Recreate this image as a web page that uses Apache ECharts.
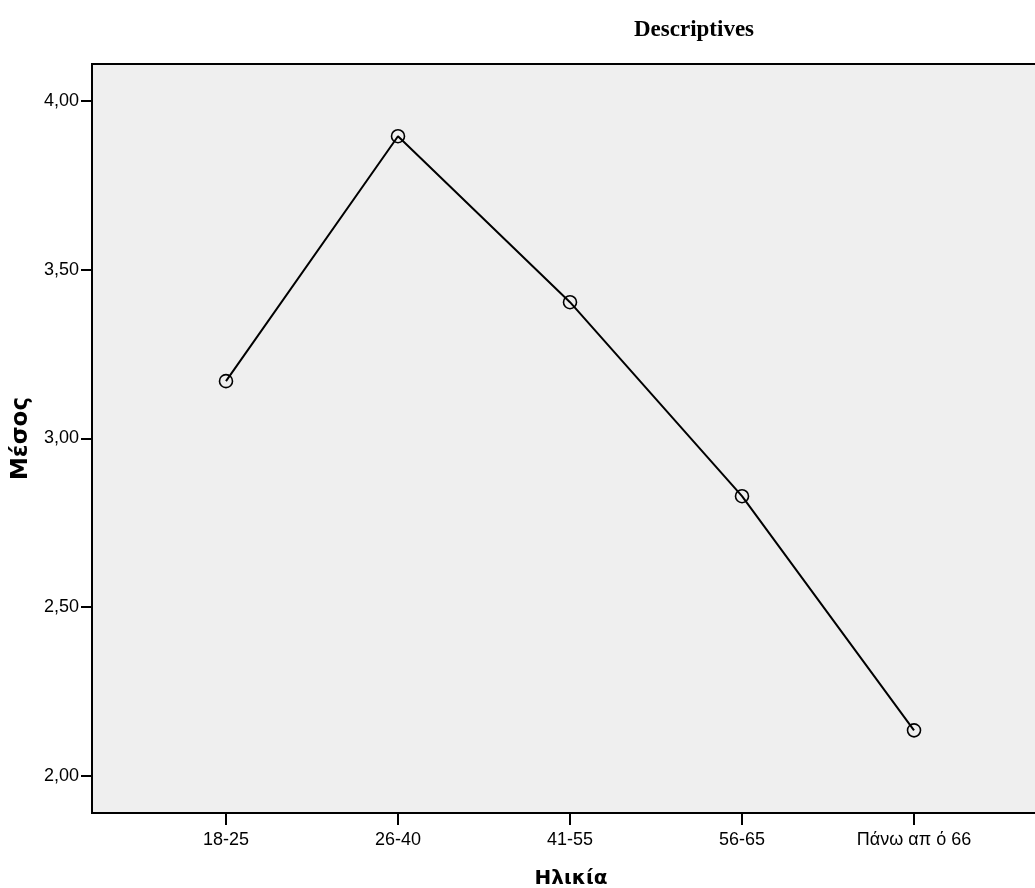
<!DOCTYPE html>
<html>
<head>
<meta charset="utf-8">
<script src="https://cdn.jsdelivr.net/npm/echarts@6/dist/echarts.min.js"></script>
<style>html,body{margin:0;padding:0;background:#fff}#c{width:1035px;height:888px}</style>
</head>
<body>
<div id="c"></div>
<script>
var categories = ['18-25', '26-40', '41-55', '56-65', 'Πάνω απ ό 66'];
var means = [3.170, 3.896, 3.404, 2.829, 2.135];
var yTicks = [2.0, 2.5, 3.0, 3.5, 4.0];

var chart = echarts.init(document.getElementById('c'), null, {renderer: 'canvas'});
var catIdx = categories.map(function (c, i) { return i; });
var pts = means.map(function (v, i) { return [i, v]; });

chart.setOption({
  animation: false,
  backgroundColor: '#ffffff',
  title: {
    text: 'Descriptives',
    left: 689, top: 14, textAlign: 'center',
    textStyle: {fontFamily: 'Liberation Serif', fontWeight: 'bold', fontSize: 23, color: '#000'}
  },
  grid: {
    left: 92, top: 64, right: -2, bottom: 75,
    outerBoundsMode: 'none', containLabel: false,
    show: true, backgroundColor: '#efefef', borderColor: '#000', borderWidth: 2
  },
  xAxis: {
    type: 'value', min: -0.779, max: 4.715,
    splitLine: {show: false},
    axisLine: {show: true, onZero: false, lineStyle: {color: '#000', width: 2}},
    axisTick: {show: true, customValues: catIdx, length: 12, lineStyle: {color: '#000', width: 2}},
    axisLabel: {
      customValues: catIdx, margin: 18, fontSize: 18, fontFamily: 'Liberation Sans', color: '#000',
      formatter: function (v) { return categories[Math.round(v)]; }
    },
    name: 'Ηλικία', nameLocation: 'middle', nameGap: 56,
    nameTextStyle: {fontFamily: 'DejaVu Sans', fontWeight: 'bold', fontSize: 20, color: '#000', padding: [0, 0, 0, 13]}
  },
  yAxis: {
    type: 'value', min: 1.89, max: 4.11,
    splitLine: {show: false},
    axisLine: {show: true, onZero: false, lineStyle: {color: '#000', width: 2}},
    axisTick: {show: true, customValues: yTicks, length: 11, lineStyle: {color: '#000', width: 2}},
    axisLabel: {
      customValues: yTicks, margin: 13, fontSize: 18, fontFamily: 'Liberation Sans', color: '#000',
      formatter: function (v) { return v.toFixed(2).replace('.', ','); }
    },
    name: 'Μέσος', nameLocation: 'middle', nameGap: 59,
    nameTextStyle: {fontFamily: 'DejaVu Sans', fontWeight: 'bold', fontSize: 23, color: '#000'}
  },
  series: [{
    type: 'line',
    data: pts,
    symbol: 'circle', symbolSize: 13,
    lineStyle: {color: '#000', width: 2},
    itemStyle: {color: 'rgba(0,0,0,0)', borderColor: '#000', borderWidth: 1.6},
    z: 3
  }]
});
</script>
</body>
</html>
